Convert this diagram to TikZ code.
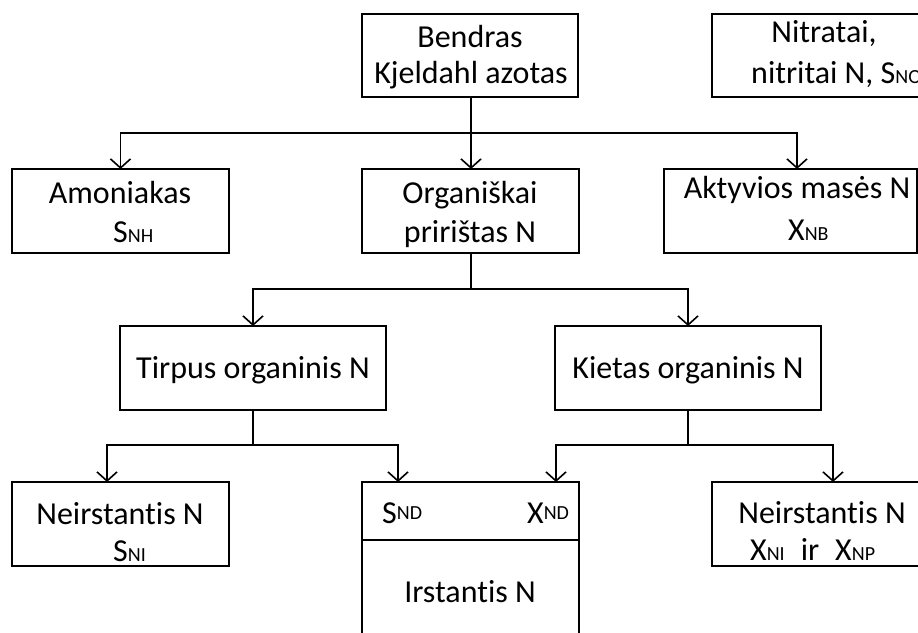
\documentclass[tikz,border=0pt]{standalone}
\usepackage{fontspec}
\setmainfont[RawFeature={-liga;-clig}]{Carlito}
\usetikzlibrary{arrows.meta}
% small capitals used for the state-variable indices
\newcommand\idx[1]{{\fontsize{20}{24}\selectfont #1}}
\begin{document}
\begin{tikzpicture}[x=1pt,y=-1pt,
  box/.style={draw, line width=1.6pt, inner sep=0pt, outer sep=0pt},
  lbl/.style={anchor=base, inner sep=0pt, font=\fontsize{32}{38}\selectfont},
  lblw/.style={lbl, anchor=base west},
  wire/.style={line width=1.6pt},
  arr/.style={wire, -{Straight Barb[length=9pt,width=20pt]}}]
\useasboundingbox (0,0) rectangle (918,632);
\fill[white] (0,0) rectangle (918,632);
\clip (0,0) rectangle (918,632);

% boxes
\node[box, minimum width=216pt, minimum height=83pt] (bkn) at (470,55.5) {};
\node[box, minimum width=216pt, minimum height=83pt] (nit) at (820,55.5) {};
\node[box, minimum width=217pt, minimum height=84pt] (amo) at (120.5,211) {};
\node[box, minimum width=217pt, minimum height=84pt] (org) at (470.5,211) {};
\node[box, minimum width=253pt, minimum height=84pt] (akt) at (790.5,211) {};
\node[box, minimum width=266pt, minimum height=84pt] (tir) at (253,368) {};
\node[box, minimum width=266pt, minimum height=84pt] (kie) at (688,368) {};
\node[box, minimum width=217pt, minimum height=84pt] (nl) at (120.5,524) {};
\node[box, minimum width=217pt, minimum height=178pt] (mid) at (470.5,571) {};
\node[box, minimum width=242pt, minimum height=84pt] (nr) at (833,524) {};
\coordinate (dv) at (0,540);
\draw[wire] (mid.west |- dv) -- (mid.east |- dv);

% texts
\node[lbl] (t1) at (470,47) {Bendras};
\node[lbl] (t2) at (471,83) {Kjeldahl azotas};
\node[lbl] (t3) at (824,42) {Nitratai,};
\node[lblw] (t4) at (751,83) {nitritai N, S\idx{NO}};
\node[lbl] (t5) at (120,203) {Amoniakas};
\node[lblw] (t6) at (113,242) {S\idx{NH}};
\node[lbl] (t7) at (470,203) {Organiškai};
\node[lbl] (t8) at (470,242) {pririštas N};
\node[lbl] (t9) at (797,198) {Aktyvios masės N};
\node[lblw] (t10) at (788,240) {X\idx{NB}};
\node[lbl] (t11) at (253,378) {Tirpus organinis N};
\node[lbl] (t12) at (688,378) {Kietas organinis N};
\node[lbl] (t13) at (120,524) {Neirstantis N};
\node[lblw] (t14) at (113,561) {S\idx{NI}};
\node[lblw] (t15) at (382,523) {S\raisebox{4pt}{\idx{ND}}};
\node[lblw] (t16) at (527,523) {X\raisebox{4pt}{\idx{ND}}};
\node[lbl] (t17) at (470,602) {Irstantis N};
\node[lbl] (t18) at (822,523) {Neirstantis N};
\node[lblw] (t19) at (750,560) {X\idx{NI}\hspace{16pt}ir\hspace{16pt}X\idx{NP}};

% connectors
\coordinate (j1) at (471,133);
\coordinate (j2) at (471,289);
\coordinate (j3) at (253,445);
\coordinate (j4) at (688,445);
\draw[wire] ([xshift=1pt]bkn.south) -- (j1);
\draw[arr] (j1) -| (amo.north);
\draw[arr] (j1) -- (j1 |- org.north);
\draw[arr] (j1) -| ([xshift=6.5pt]akt.north);
\draw[wire] ([xshift=0.5pt]org.south) -- (j2);
\draw[arr] (j2) -| (tir.north);
\draw[arr] (j2) -| (kie.north);
\draw[wire] (tir.south) -- (j3);
\draw[arr] (j3) -| ([xshift=-13.5pt]nl.north);
\draw[arr] (j3) -| ([xshift=-72.5pt]mid.north);
\draw[wire] (kie.south) -- (j4);
\draw[arr] (j4) -| ([xshift=85.5pt]mid.north);
\draw[arr] (j4) -| (nr.north);
\end{tikzpicture}
\end{document}
